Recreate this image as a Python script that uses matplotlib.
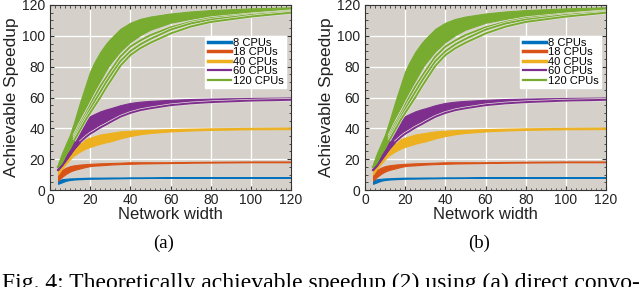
import numpy as np
import matplotlib.pyplot as plt
from matplotlib.lines import Line2D
from matplotlib.ticker import MultipleLocator

plt.rcParams['font.family'] = ['Liberation Sans', 'DejaVu Sans']

# network width samples
x = [4, 5, 6, 8, 10, 12, 15, 18, 20, 22, 25, 28, 30, 35, 40, 45, 50, 60, 70, 80, 100, 120]

# envelopes of each band of curves
blue_hi = [6, 6.5, 7, 7.3, 7.5, 7.6, 7.8, 7.9, 8, 8, 8, 8.05, 8.1, 8.1, 8.2, 8.2, 8.2, 8.3, 8.3, 8.3, 8.3, 8.3]
blue_lo = [4, 4.5, 5, 6, 6.5, 6.8, 7, 7.2, 7.3, 7.35, 7.4, 7.45, 7.5, 7.6, 7.7, 7.75, 7.8, 7.9, 7.9, 8, 8, 8]
orange_hi = [10, 11.5, 13, 14.5, 15.5, 16, 16.5, 16.8, 17, 17.1, 17.3, 17.4, 17.5, 17.7, 18, 18, 18, 18, 18.2, 18.3, 18.5, 18.5]
orange_lo = [6, 7.3, 8.5, 10.5, 12, 13, 14, 15, 15.5, 15.8, 16, 16.3, 16.5, 16.8, 17, 17.2, 17.3, 17.5, 17.7, 17.8, 18, 18]
yellow_hi = [14, 18, 21, 25.5, 28, 30, 31.5, 33, 34, 34.8, 36, 36.6, 37, 38, 38.5, 38.8, 39, 39.5, 39.8, 40, 40.3, 40.5]
yellow_lo = [10, 12, 14, 17, 20, 22.5, 25, 27, 28, 28.8, 30, 31, 31.5, 33.5, 35, 36.2, 37, 38, 38.6, 39, 39.4, 39.5]
purple_hi = [15, 17, 21, 28, 34, 38.5, 43, 46, 48, 49.2, 51, 52.3, 53, 55, 56.5, 57.3, 57.8, 58.5, 59, 59.3, 59.7, 60]
purple_lo = [13, 14.5, 16, 19.5, 23, 27, 32.5, 36.5, 38.5, 40, 42.5, 44.5, 46, 49, 51.2, 52.6, 53.6, 55.3, 56.4, 57.1, 58, 58.5]
green_hi = [17, 20.5, 24, 30, 36, 44, 57, 69, 77, 82.5, 89.5, 95, 98, 104.5, 108.5, 111, 112.5, 114.5, 115.8, 116.7, 117.8, 118.5]
green_lo = [15, 17, 19, 25, 31, 38, 47, 54, 59, 64, 71, 78, 82, 90, 96, 100.5, 104, 108.5, 111, 113, 115, 116.5]

# curves that run apart, below the main bands
purple_strand = [13, 14.5, 16, 19.5, 23, 26.5, 31, 34.5, 36.5, 38, 40.5, 42.5, 44, 47.5, 50, 51.8, 53, 55, 56.2, 57, 58, 58.5]
green_strand1 = [15, 16.5, 18.5, 24, 29, 35, 43, 50, 55, 60, 67, 73, 77, 86.5, 93, 97, 100.5, 105.5, 109, 111.5, 114, 116]
green_strand2 = [15, 16.5, 18, 23.5, 28, 33.5, 41, 48, 52.5, 57, 63.5, 70, 74, 83.5, 90, 94.5, 98, 104, 108, 110.5, 113.5, 115.5]
green_strand3 = [15, 16.5, 18, 23, 27, 32, 39, 46, 50, 54, 60, 66.5, 70.5, 80.5, 87.5, 92, 95.5, 101.5, 106, 109, 112.5, 115]

labels = ['8 CPUs', '18 CPUs', '40 CPUs', '60 CPUs', '120 CPUs']
colors = ['#0072BD', '#D95319', '#EDB120', '#7E2F8E', '#77AC30']
bands = [(blue_lo, blue_hi), (orange_lo, orange_hi), (yellow_lo, yellow_hi),
         (purple_lo, purple_hi), (green_lo, green_hi)]
captions = ['(a)', '(b)']
bg = '#d5d1ca'
seam = '#e6e2da'

W, H = 640, 287
fig = plt.figure(figsize=(W / 100, H / 100), dpi=100)


def strand(ax, ys, c, start):
    # light seam only where the curve has left the band
    ax.plot(x[start:], ys[start:], color=seam, lw=2.4, solid_capstyle='butt')
    ax.plot(x, ys, color=c, lw=1.4)


for k, left in enumerate([50, 365]):
    ax = fig.add_axes([left / W, 97 / H, 241 / W, 185 / H])
    ax.set_facecolor(bg)
    ax.grid(True, color='white', lw=0.9)
    ax.set_axisbelow(True)

    for i, ((lo, hi), c) in enumerate(zip(bands, colors)):
        if i == 3:
            ax.plot(x, purple_strand, color=c, lw=1.4)
        ax.fill_between(x, lo, hi, color=c, lw=0.8, edgecolor=c)
        if i == 3:
            strand(ax, purple_strand, c, 6)
    for s in [green_strand1, green_strand2, green_strand3]:
        strand(ax, s, colors[4], 5)

    ax.set_xlim(0, 120)
    ax.set_ylim(0, 120)
    ax.xaxis.set_major_locator(MultipleLocator(20))
    ax.yaxis.set_major_locator(MultipleLocator(20))
    ax.xaxis.set_minor_locator(MultipleLocator(2.5))
    ax.yaxis.set_minor_locator(MultipleLocator(5))
    ax.tick_params(which='both', direction='in', top=True, right=True,
                   labelsize=10, colors='#333333', labelcolor='#222222')
    ax.tick_params(which='major', length=3)
    ax.tick_params(which='minor', length=1.8)
    ax.tick_params(axis='x', pad=2)
    for sp in ax.spines.values():
        sp.set_color('#333333')
        sp.set_linewidth(0.8)
    ax.set_xlabel('Network width', fontsize=12, labelpad=0, color='#222222')
    ax.set_ylabel('Achievable Speedup', fontsize=12.5, labelpad=2, color='#222222')

    handles = [Line2D([], [], color=c, lw=lw)
               for c, lw in zip(colors, [2.5, 2.5, 2.5, 1.6, 1.6])]
    ax.legend(handles, labels, loc='upper right',
              bbox_to_anchor=(0.98, 0.835), fontsize=8,
              frameon=True, fancybox=False, framealpha=1,
              facecolor='white', edgecolor='white',
              handlelength=2.1, handletextpad=0.2, labelspacing=-0.05,
              borderpad=0.2, borderaxespad=0)

    fig.text((left + 114) / W, 1 - 243 / H, captions[k], ha='center', va='center',
             fontsize=13.5, family=['Liberation Serif'])

fig.text(2 / W, 1 - 273 / H,
         'Fig. 4: Theoretically achievable speedup (2) using (a) direct convo-',
         ha='left', va='top', fontsize=17, family=['Liberation Serif'])

fig.savefig('out.png', dpi=100)
